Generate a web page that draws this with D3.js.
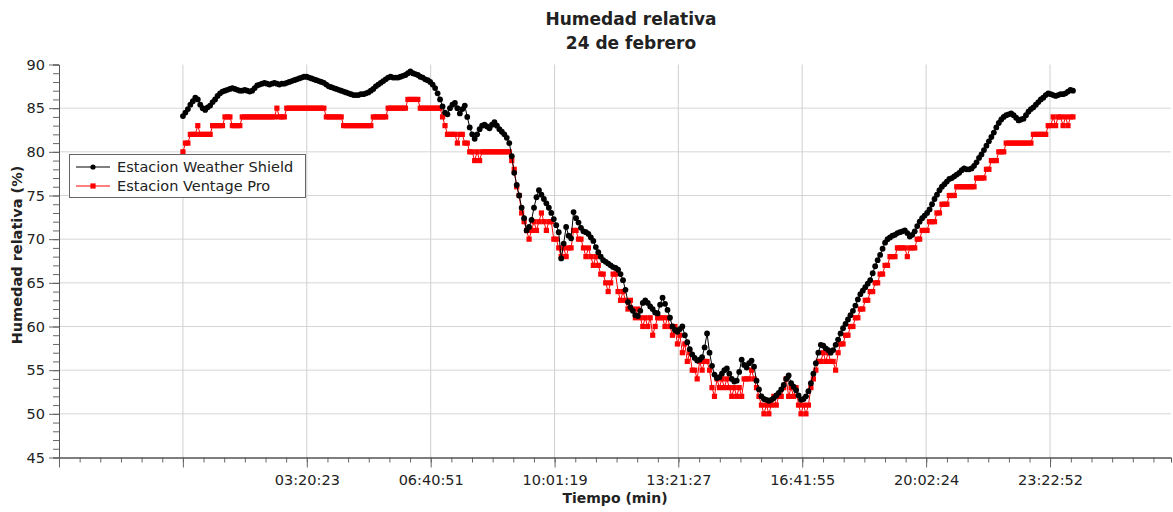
<!DOCTYPE html>
<html>
<head>
<meta charset="utf-8">
<script src="https://cdn.jsdelivr.net/npm/d3@7"></script>
<style>
  body { margin: 0; background: #fff; }
  text { font-family: "DejaVu Sans", sans-serif; fill: #222; }
</style>
</head>
<body>
<div id="grafica"></div>
<script>
// humedad relativa 24 de febrero, una muestra cada 4 min desde las 00:00:00
const intervaloSeg = 240;

const weatherShield = [
  84.1, 84.5, 84.9, 85.4, 85.8, 86.2, 86.0, 85.4, 85.0, 84.8,
  85.1, 85.3, 85.7, 86.0, 86.4, 86.7, 86.9, 87.0, 87.1, 87.2,
  87.3, 87.2, 87.1, 87.0, 87.0, 87.1, 87.0, 86.9, 87.0, 87.3,
  87.6, 87.7, 87.8, 87.9, 87.8, 87.7, 87.8, 87.9, 87.8, 87.7,
  87.8, 87.8, 87.9, 88.0, 88.1, 88.2, 88.3, 88.4, 88.5, 88.6,
  88.6, 88.5, 88.4, 88.3, 88.2, 88.1, 88.0, 87.9, 87.7, 87.5,
  87.4, 87.3, 87.2, 87.1, 87.0, 86.9, 86.8, 86.7, 86.6, 86.5,
  86.5, 86.5, 86.6, 86.6, 86.7, 86.8, 87.0, 87.2, 87.5, 87.7,
  87.9, 88.1, 88.3, 88.5, 88.6, 88.5, 88.5, 88.5, 88.6, 88.7,
  88.8, 89.0, 89.2, 89.0, 88.9, 88.8, 88.6, 88.5, 88.3, 88.2,
  88.0, 87.7, 87.3, 86.7, 86.0, 85.2, 84.5, 84.3, 85.0, 85.4,
  85.6, 85.0, 84.4, 84.9, 85.3, 84.0, 82.8, 82.0, 81.5, 82.0,
  82.6, 83.0, 83.1, 82.9, 82.7, 83.1, 83.4, 83.0, 82.6, 82.3,
  82.0, 81.6, 81.0, 79.5, 77.6, 76.2, 75.0, 73.6, 72.4, 71.0,
  71.4, 72.2, 73.6, 74.8, 75.6, 75.1, 74.6, 74.1, 73.6, 73.0,
  72.3, 71.6, 70.8, 67.8, 69.5, 71.4, 70.4, 70.1, 73.1, 72.4,
  71.9, 71.3, 70.9, 70.8, 70.6, 70.2, 69.8, 69.1, 68.5, 68.0,
  67.6, 67.4, 67.2, 67.0, 66.8, 66.7, 66.5, 66.0, 65.3, 64.2,
  62.8, 62.2, 61.8, 61.3, 61.2, 61.8, 62.7, 63.0, 62.7, 62.3,
  62.0, 61.6, 61.5, 62.5, 63.3, 62.6, 61.9, 61.0, 60.0, 59.6,
  59.4, 59.7, 60.0, 59.0, 58.2, 57.4, 56.8, 56.4, 56.1, 56.2,
  56.5, 57.6, 59.2, 57.0, 55.5, 54.5, 54.1, 54.2, 54.6, 55.0,
  55.2, 54.6, 54.0, 53.7, 53.8, 54.8, 56.2, 55.6, 55.3, 55.8,
  56.1, 55.4, 53.8, 52.8, 52.0, 51.7, 51.6, 51.5, 51.6, 51.8,
  52.1, 52.4, 52.8, 53.3, 54.0, 54.4, 53.5, 53.1, 52.7, 52.1,
  51.6, 51.7, 52.0, 52.6, 53.5, 54.6, 55.8, 57.0, 57.9, 57.8,
  57.5, 57.3, 57.0, 57.3, 57.9, 58.5, 59.2, 59.8, 60.3, 60.8,
  61.3, 61.8, 62.4, 63.1, 63.7, 64.1, 64.5, 64.9, 65.3, 66.1,
  66.9, 67.6, 68.2, 68.9, 69.6, 70.0, 70.2, 70.4, 70.5, 70.7,
  70.8, 70.9, 71.0, 70.7, 70.3, 70.5, 70.9, 71.5, 72.0, 72.4,
  72.7, 73.0, 73.4, 74.0, 74.6, 75.1, 75.6, 76.0, 76.3, 76.6,
  76.9, 77.0, 77.2, 77.4, 77.6, 77.9, 78.1, 78.0, 78.0, 78.1,
  78.4, 78.8, 79.3, 79.7, 80.2, 80.7, 81.2, 81.7, 82.2, 82.8,
  83.3, 83.7, 84.0, 84.2, 84.3, 84.4, 84.2, 83.9, 83.6, 83.7,
  83.8, 84.2, 84.6, 84.9, 85.1, 85.4, 85.7, 86.0, 86.2, 86.5,
  86.7, 86.6, 86.5, 86.4, 86.5, 86.6, 86.6, 86.7, 86.9, 87.1,
  87.0
];

const ventagePro = [
  80, 81, 81, 82, 82, 82, 83, 82, 82, 82,
  82, 82, 83, 83, 83, 83, 83, 84, 84, 84,
  83, 83, 83, 83, 84, 84, 84, 84, 84, 84,
  84, 84, 84, 84, 84, 84, 84, 84, 85, 84,
  84, 84, 85, 85, 85, 85, 85, 85, 85, 85,
  85, 85, 85, 85, 85, 85, 85, 85, 84, 84,
  84, 84, 84, 84, 84, 83, 83, 83, 83, 83,
  83, 83, 83, 83, 83, 83, 83, 84, 84, 84,
  84, 84, 84, 85, 85, 85, 85, 85, 85, 85,
  85, 86, 86, 86, 86, 86, 85, 85, 85, 85,
  85, 85, 85, 85, 85, 84, 83, 82, 82, 82,
  82, 81, 82, 82, 81, 81, 80, 80, 79, 80,
  79, 80, 80, 80, 80, 80, 80, 80, 80, 80,
  80, 80, 80, 79, 78, 76, 75, 73, 72, 71,
  70, 71, 72, 71, 72, 73, 72, 71, 72, 72,
  70, 70, 69, 68, 69, 68, 69, 69, 71, 71,
  70, 70, 69, 68, 69, 68, 67, 68, 67, 66,
  66, 65, 64, 65, 66, 66, 64, 63, 64, 63,
  62, 63, 62, 61, 62, 61, 60, 61, 60, 61,
  59, 60, 61, 61, 61, 60, 61, 60, 59, 60,
  58, 59, 57, 58, 56, 57, 55, 55, 54, 56,
  55, 56, 56, 55, 53, 52, 54, 53, 54, 53,
  54, 53, 52, 53, 52, 53, 52, 54, 54, 54,
  55, 54, 53, 52, 51, 50, 51, 50, 51, 52,
  51, 52, 52, 53, 54, 52, 53, 52, 53, 51,
  50, 51, 50, 51, 53, 54, 55, 56, 56, 57,
  56, 57, 56, 56, 55, 57, 58, 58, 59, 59,
  60, 60, 61, 61, 62, 62, 63, 63, 64, 64,
  65, 65, 66, 66, 67, 67, 68, 68, 68, 69,
  69, 69, 69, 68, 69, 69, 69, 70, 70, 71,
  71, 71, 72, 72, 72, 73, 73, 74, 74, 74,
  75, 75, 75, 76, 76, 76, 76, 76, 76, 76,
  76, 77, 77, 77, 77, 78, 78, 79, 79, 79,
  80, 80, 80, 81, 81, 81, 81, 81, 81, 81,
  81, 81, 81, 81, 82, 82, 82, 82, 82, 82,
  83, 83, 84, 83, 84, 84, 83, 84, 83, 84,
  84
];

const etiquetasTiempo = ["03:20:23", "06:40:51", "10:01:19", "13:21:27", "16:41:55", "20:02:24", "23:22:52"];
const ticksHumedad = [45, 50, 55, 60, 65, 70, 75, 80, 85, 90];
const nombresSeries = ["Estacion Weather Shield", "Estacion Ventage Pro"];
const coloresSeries = ["#000000", "#ff0000"];

const ancho = 1173, alto = 512;
const izq = 59, der = 1171, arriba = 64.5, abajo = 457.5;

function aSegundos(s) {
  let p = s.split(":").map(Number);
  return p[0] * 3600 + p[1] * 60 + p[2];
}

let tiemposEtiqueta = etiquetasTiempo.map(aSegundos);
let paso = 12028; // separacion entre marcas principales (s)
let inicioEje = tiemposEtiqueta[0] - 2 * paso;
let finEje = inicioEje + paso * (der - izq) / 123.9;

let x = d3.scaleLinear().domain([inicioEje, finEje]).range([izq, der]);
let y = d3.scaleLinear().domain([45, 90]).range([abajo, arriba]);

let marcasX = [inicioEje, tiemposEtiqueta[0] - paso].concat(tiemposEtiqueta);
let etiquetaDe = new Map(tiemposEtiqueta.map((t, i) => [t, etiquetasTiempo[i]]));
let menoresX = d3.range(inicioEje, finEje + 1, paso / 6);
let menoresY = d3.range(45, 91, 1);

let svg = d3.select("#grafica").append("svg")
  .attr("width", ancho).attr("height", alto);

// rejilla
svg.append("g").selectAll("line")
  .data(ticksHumedad.filter(d => d > 45 && d < 90)).enter()
  .append("line")
  .attr("x1", izq).attr("x2", der)
  .attr("y1", d => y(d)).attr("y2", d => y(d))
  .attr("stroke", "#d6d6d6").attr("stroke-width", 1);

svg.append("g").selectAll("line")
  .data(marcasX.slice(1)).enter()
  .append("line")
  .attr("x1", d => x(d)).attr("x2", d => x(d))
  .attr("y1", arriba).attr("y2", abajo)
  .attr("stroke", "#cfcfcf").attr("stroke-width", 1);

// ejes
let ejeYMenor = svg.append("g").attr("transform", "translate(" + izq + ",0)")
  .call(d3.axisLeft(y).tickValues(menoresY).tickSize(6).tickFormat(""));
let ejeY = svg.append("g").attr("transform", "translate(" + izq + ",0)")
  .call(d3.axisLeft(y).tickValues(ticksHumedad).tickSize(10).tickPadding(4).tickSizeOuter(0));

let ejeXMenor = svg.append("g").attr("transform", "translate(0," + abajo + ")")
  .call(d3.axisBottom(x).tickValues(menoresX).tickSize(5).tickFormat(""));
let ejeX = svg.append("g").attr("transform", "translate(0," + abajo + ")")
  .call(d3.axisBottom(x).tickValues(marcasX).tickSize(10).tickPadding(8).tickSizeOuter(0)
    .tickFormat(d => etiquetaDe.get(d) || ""));

[ejeY, ejeYMenor, ejeX, ejeXMenor].forEach(function (g) {
  g.selectAll(".domain").attr("stroke", "#555");
  g.selectAll(".tick line").attr("stroke", "#666");
  g.selectAll(".tick text").attr("font-size", 14.5).attr("fill", "#2a2a2a")
    .attr("font-family", "DejaVu Sans, sans-serif");
});
ejeX.selectAll(".tick text").attr("dy", "0.65em");

// series
let linea = d3.line()
  .x((d, i) => x(i * intervaloSeg))
  .y(d => y(d));

let gRojo = svg.append("g");
gRojo.append("path").datum(ventagePro)
  .attr("d", linea).attr("fill", "none")
  .attr("stroke", coloresSeries[1]).attr("stroke-width", 1);
gRojo.selectAll("rect").data(ventagePro).enter()
  .append("rect")
  .attr("x", (d, i) => x(i * intervaloSeg) - 2.6)
  .attr("y", d => y(d) - 2.6)
  .attr("width", 5.2).attr("height", 5.2)
  .attr("fill", coloresSeries[1]);

let gNegro = svg.append("g");
gNegro.append("path").datum(weatherShield)
  .attr("d", linea).attr("fill", "none")
  .attr("stroke", coloresSeries[0]).attr("stroke-width", 1);
gNegro.selectAll("circle").data(weatherShield).enter()
  .append("circle")
  .attr("cx", (d, i) => x(i * intervaloSeg))
  .attr("cy", d => y(d))
  .attr("r", 2.9)
  .attr("fill", coloresSeries[0]);

// titulos
svg.append("text").attr("x", 631).attr("y", 25)
  .attr("text-anchor", "middle").attr("font-size", 17).attr("font-weight", "bold")
  .text("Humedad relativa");
svg.append("text").attr("x", 631).attr("y", 49)
  .attr("text-anchor", "middle").attr("font-size", 17).attr("font-weight", "bold")
  .text("24 de febrero");

svg.append("text").attr("x", (izq + der) / 2).attr("y", 503)
  .attr("text-anchor", "middle").attr("font-size", 14).attr("font-weight", "bold")
  .text("Tiempo (min)");

svg.append("text")
  .attr("transform", "translate(22,255) rotate(-90)")
  .attr("text-anchor", "middle").attr("font-size", 14.5).attr("font-weight", "bold")
  .text("Humedad relativa (%)");

// leyenda
let leyenda = svg.append("g");
leyenda.append("rect")
  .attr("x", 69.5).attr("y", 154.5).attr("width", 236).attr("height", 43)
  .attr("fill", "#fff").attr("stroke", "#666").attr("stroke-width", 1);

let filas = leyenda.selectAll("g.fila").data(nombresSeries).enter()
  .append("g").attr("class", "fila")
  .attr("transform", (d, i) => "translate(0," + (167 + i * 19) + ")");
filas.append("line")
  .attr("x1", 76).attr("x2", 110).attr("y1", 0).attr("y2", 0)
  .attr("stroke", (d, i) => coloresSeries[i]).attr("stroke-width", 1);
filas.each(function (d, i) {
  let g = d3.select(this);
  if (i === 0) {
    g.append("circle").attr("cx", 93).attr("cy", 0).attr("r", 2.6).attr("fill", coloresSeries[0]);
  } else {
    g.append("rect").attr("x", 90.4).attr("y", -2.6).attr("width", 5.2).attr("height", 5.2)
      .attr("fill", coloresSeries[1]);
  }
});
filas.append("text")
  .attr("x", 117).attr("y", 5.2)
  .attr("font-size", 14.5)
  .text(d => d);
</script>
</body>
</html>
